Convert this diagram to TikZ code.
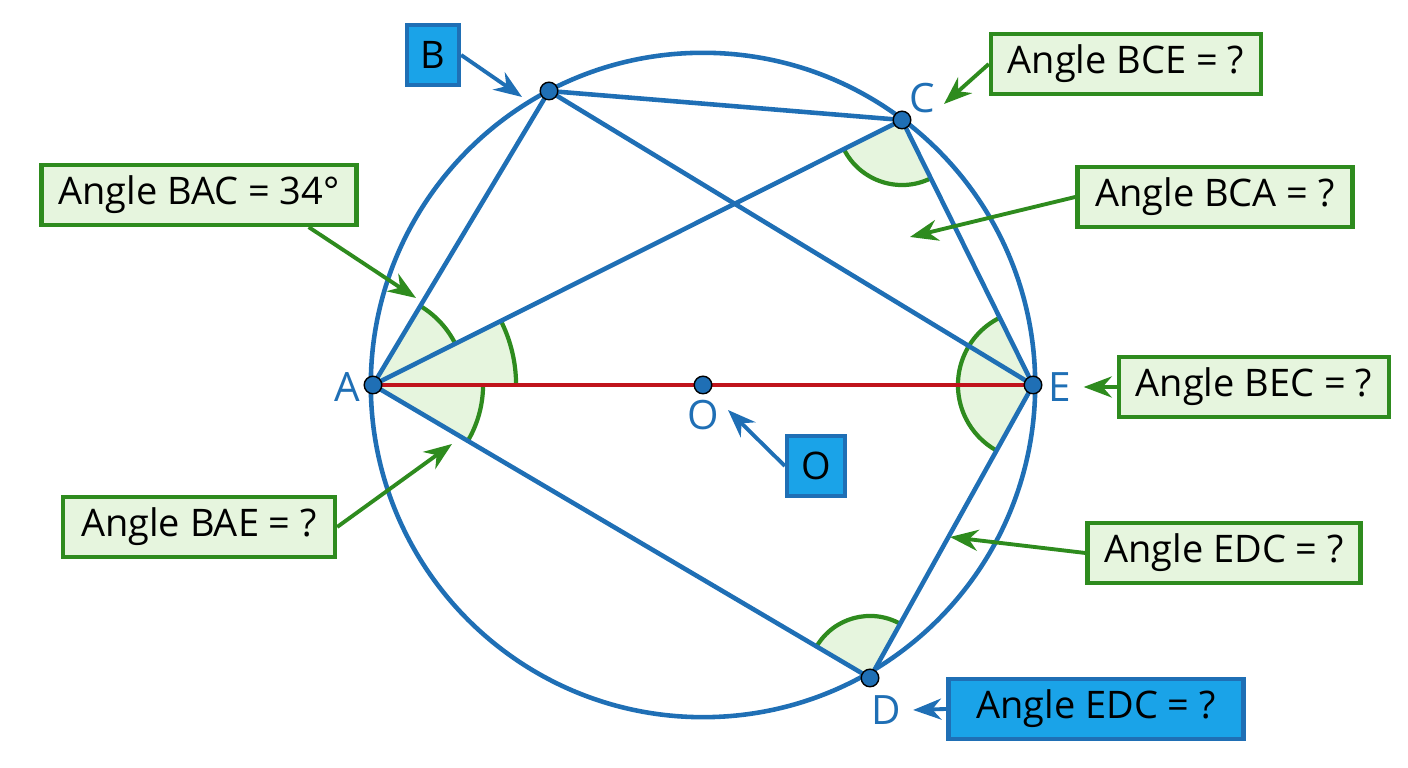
\documentclass[tikz,border=0pt]{standalone}
\usepackage{fontspec}
\setmainfont{Open Sans}
\usetikzlibrary{arrows.meta, positioning}
\definecolor{lineblue}{HTML}{1F6FB5}
\definecolor{diamred}{HTML}{C0141C}
\definecolor{boxgreen}{HTML}{2E8B1E}
\definecolor{fillgreen}{HTML}{E6F5DE}
\definecolor{boxblue}{HTML}{1AA3E8}

\begin{document}
\begin{tikzpicture}[x=0.01cm, y=0.01cm,
    seg/.style={draw=lineblue, line width=1.3pt},
    pt/.style={circle, draw=black, fill=lineblue, inner sep=0pt, minimum size=5pt},
    gbox/.style={draw=boxgreen, fill=fillgreen, line width=1.2pt, minimum height=0.6cm, inner sep=3pt, font=\fontsize{10.8pt}{12pt}\selectfont},
    bbox/.style={draw=lineblue, fill=boxblue, line width=1.2pt, minimum height=0.6cm, inner sep=3pt, font=\fontsize{10.8pt}{12pt}\selectfont},
    garrow/.style={-{Stealth[length=8pt, width=6pt]}, draw=boxgreen, line width=1.1pt},
    barrow/.style={-{Stealth[length=8pt, width=6pt]}, draw=lineblue, line width=1.1pt},
    ptlabel/.style={text=lineblue, font=\fontsize{11.5pt}{12pt}\selectfont},
    anglefill/.style={fill=fillgreen}
]
\useasboundingbox (0,0) rectangle (1408,-768);

% circle and points
\coordinate (O) at (703,-385);
\draw[lineblue, line width=1.3pt] (O) circle[radius=3.32cm];
\coordinate (A) at (373,-385);
\coordinate (B) at (549,-91);
\coordinate (C) at (902,-120);
\coordinate (D) at (870,-678);
\coordinate (E) at (1033,-385);

% angle marks
\foreach \p/\a/\b/\r in {A/0/26.6/1.43, A/26.6/59.1/0.92, A/-30.5/0/1.1,
    C/206.6/296.3/0.65, E/116.3/240.9/0.75, D/60.9/149.5/0.62}{
  \fill[anglefill] (\p) -- ++(\a:\r cm) arc[start angle=\a, end angle=\b, radius=\r cm] -- cycle;
  \draw[boxgreen, line width=1.2pt] (\p) ++(\a:\r cm) arc[start angle=\a, end angle=\b, radius=\r cm];
}

% chords
\draw[seg] (A) -- (B) -- (C) -- (E) -- (D) -- (A);
\draw[seg] (B) -- (E);
\draw[seg] (A) -- (C);
\draw[diamred, line width=1.3pt] (A) -- (E);

\foreach \p in {A,B,C,D,E,O}
  \node[pt] (p\p) at (\p) {};

% point labels
\node[ptlabel] (lA) at (347,-387) {A};
\node[ptlabel] (lC) at (922,-98) {C};
\node[ptlabel] (lE) at (1060,-387) {E};
\node[ptlabel] (lO) at (703,-415) {O};
\node[ptlabel] (lD) at (886,-710) {D};

% boxes
\node[bbox, minimum width=0.52cm] (boxB) at (433,-55) {B};
\node[bbox, minimum width=0.58cm] (boxO) at (816,-466) {O};
\node[gbox, minimum width=2.7cm] (bce) at (1126,-64) {Angle BCE = ?};
\node[gbox, minimum width=3.15cm] (bac) at (199,-195) {Angle BAC = 34°};
\node[gbox, minimum width=2.75cm] (bca) at (1215,-197) {Angle BCA = ?};
\node[gbox, minimum width=2.7cm] (bec) at (1254,-387) {Angle BEC = ?};
\node[gbox, minimum width=2.72cm] (bae) at (199,-527) {Angle BAE = ?};
\node[gbox, minimum width=2.73cm] (edc) at (1224,-553) {Angle EDC = ?};
\node[bbox, minimum width=2.95cm] (edcb) at (1096,-709) {Angle EDC = ?};

% arrow tips
\coordinate (tB) at (522,-97);
\coordinate (tBCE) at (944,-104);
\coordinate (tBAC) at (416,-298);
\coordinate (tBCA) at (910,-237);
\coordinate (tBAE) at (452,-444);
\coordinate (tEDC) at (950,-537);
\coordinate (tO) at (728,-410);

% arrows
\draw[barrow] (boxB.east) -- (tB);
\draw[barrow] (boxO.west) -- (tO);
\draw[garrow] (bce.west) -- (tBCE);
\draw[garrow] (bac.south east) ++(-50,0) -- (tBAC);
\draw[garrow] (bca.west) -- (tBCA);
\draw[garrow] (bec.west) -- (lE.east);
\draw[garrow] (bae.east) -- (tBAE);
\draw[garrow] (edc.west) -- (tEDC);
\draw[barrow] (edcb.west) -- (lD.east);
\end{tikzpicture}
\end{document}
